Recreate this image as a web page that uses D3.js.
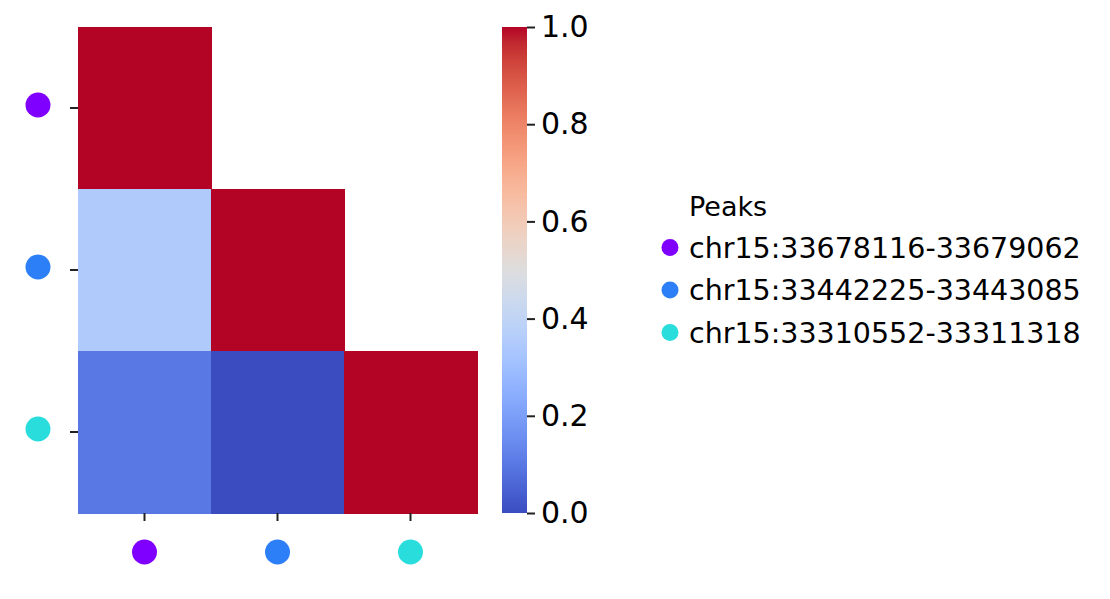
<!DOCTYPE html>
<html><head><meta charset="utf-8">
<script src="https://cdn.jsdelivr.net/npm/d3@7"></script>
<style>body{margin:0;background:#fff}svg{display:block}text{font-family:"DejaVu Sans",sans-serif}</style>
</head><body><div id="c"></div>
<script>
const peaks = ["chr15:33678116-33679062","chr15:33442225-33443085","chr15:33310552-33311318"];
const peakColors = ["#8000ff","#2c7ff7","#2adddd"];
// lower-triangular correlation matrix rows (row i, col j<=i)
const row0 = [1.0];
const row1 = [0.35, 1.0];
const row2 = [0.10, 0.0, 1.0];
const matrix = [row0,row1,row2];
const cbarTicks = [0,0.2,0.4,0.6,0.8,1.0];
const coolwarmStops = ["#3b4cc0","#445acc","#4d68d7","#5775e1","#6282ea","#6c8ff1","#779af7","#82a5fb","#8db0fe","#98b9ff","#a3c2ff","#aec9fd","#b8d0f9","#c2d5f4","#ccd9ee","#d5dbe6","#dddddd","#e5d8d1","#ecd3c5","#f1ccb9","#f5c4ad","#f7bba0","#f7b194","#f7a687","#f49a7b","#f18d6f","#ec7f63","#e57058","#de604d","#d55042","#cb3e38","#c0282f","#b40426"];

const W=1110,H=599;
const svg=d3.select("#c").append("svg").attr("width",W).attr("height",H);
const cmap=d3.scaleLinear().domain(coolwarmStops.map((d,i)=>i/(coolwarmStops.length-1))).range(coolwarmStops).interpolate(d3.interpolateRgb).clamp(true);

const x=d3.scaleBand().domain(d3.range(3)).range([78,477]).padding(0);
const y=d3.scaleBand().domain(d3.range(3)).range([27,513]).padding(0);

const cells=[];
matrix.forEach((r,i)=>r.forEach((v,j)=>cells.push({i,j,v})));
svg.append("g").selectAll("rect").data(cells).join("rect")
  .attr("x",d=>x(d.j)).attr("y",d=>y(d.i))
  .attr("width",x.bandwidth()+0.5).attr("height",y.bandwidth()+0.5)
  .attr("fill",d=>cmap(d.v)).attr("shape-rendering","crispEdges");

// axes with ticks
const yAxis=d3.axisLeft(y).tickSize(8).tickFormat("");
const gy=svg.append("g").attr("transform","translate(78,0)").call(yAxis);
gy.select(".domain").remove();
gy.selectAll("line").attr("stroke","#222").attr("stroke-width",2);
const xAxis=d3.axisBottom(x).tickSize(8).tickFormat("");
const gx=svg.append("g").attr("transform","translate(0,513)").call(xAxis);
gx.select(".domain").remove();
gx.selectAll("line").attr("stroke","#222").attr("stroke-width",2);

svg.append("g").selectAll("circle").data(d3.range(3)).join("circle")
  .attr("cx",38).attr("cy",d=>y(d)+y.bandwidth()/2-3).attr("r",12.5).attr("fill",d=>peakColors[d]);
svg.append("g").selectAll("circle").data(d3.range(3)).join("circle")
  .attr("cx",d=>x(d)+x.bandwidth()/2).attr("cy",552).attr("r",12.5).attr("fill",d=>peakColors[d]);

// colorbar
const cb=d3.scaleLinear().domain([0,1]).range([513,27]);
const defs=svg.append("defs");
const grad=defs.append("linearGradient").attr("id","cw").attr("x1",0).attr("y1",1).attr("x2",0).attr("y2",0);
coolwarmStops.forEach((c,i)=>grad.append("stop").attr("offset",i/(coolwarmStops.length-1)).attr("stop-color",c));
svg.append("rect").attr("x",502).attr("y",cb(1)).attr("width",25).attr("height",cb(0)-cb(1)).attr("fill","url(#cw)");
const gc=svg.append("g").attr("transform","translate(527,0)").call(d3.axisRight(cb).tickValues(cbarTicks).tickSize(8).tickPadding(6).tickFormat(d3.format(".1f")));
gc.select(".domain").remove();
gc.selectAll("line").attr("stroke","#222").attr("stroke-width",2);
gc.selectAll("text").attr("font-size",30).attr("fill","#000").attr("font-family","DejaVu Sans");

// legend
const lg=svg.append("g");
lg.append("text").attr("x",689).attr("y",216).attr("font-size",27).text("Peaks");
const ent=lg.selectAll("g.e").data(peaks).join("g").attr("class","e")
  .attr("transform",(d,i)=>`translate(0,${257.5+i*42.5})`);
ent.append("circle").attr("cx",670).attr("cy",-10).attr("r",8.5).attr("fill",(d,i)=>peakColors[i]);
ent.append("text").attr("x",689).attr("y",0).attr("font-size",28.5).text(d=>d);
</script></body></html>
